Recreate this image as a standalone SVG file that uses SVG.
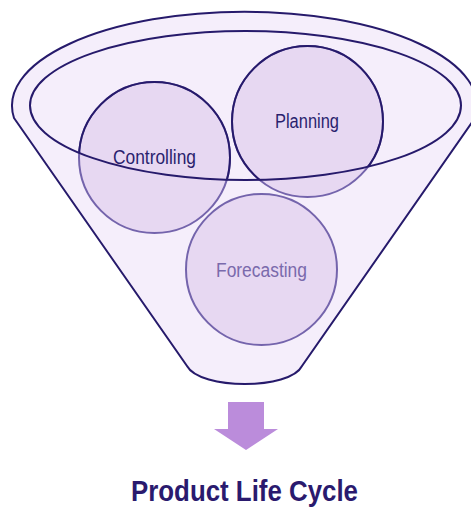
<svg xmlns="http://www.w3.org/2000/svg" width="471" height="508" viewBox="0 0 471 508">
<style>
.dark{stroke:#261a6b;stroke-width:2;fill:none}
.circ{fill:#e7d8f2;stroke:#7464ac;stroke-width:2}
.lbl{font-family:"Liberation Sans",Arial,sans-serif;font-size:20px;text-anchor:middle}
</style>
<defs>
<clipPath id="inner"><ellipse cx="245.5" cy="105.5" rx="215.5" ry="74.5"/></clipPath>
</defs>
<rect width="471" height="508" fill="#ffffff"/>
<g id="funnel">
<path d="M14,118 L187,366 C200,390 290,390 302,366 L475,118 A232.5,94 0 1 0 14,118 Z" fill="#f5eefb" stroke="#261a6b" stroke-width="2"/>
</g>
<g id="controlling">
<circle class="circ" cx="154.5" cy="157.5" r="75.5"/>
<circle class="dark" cx="154.5" cy="157.5" r="75.5" clip-path="url(#inner)"/>
<text class="lbl" x="154.5" y="164.3" fill="#2a1f6e" textLength="83" lengthAdjust="spacingAndGlyphs">Controlling</text>
</g>
<g id="planning">
<circle class="circ" cx="307.5" cy="121.5" r="75.5"/>
<circle class="dark" cx="307.5" cy="121.5" r="75.5" clip-path="url(#inner)"/>
<text class="lbl" x="307" y="127.7" fill="#2a1f6e" textLength="64" lengthAdjust="spacingAndGlyphs">Planning</text>
</g>
<g id="forecasting">
<circle class="circ" cx="261.5" cy="269.5" r="75.5"/>
<text class="lbl" x="261.5" y="276.7" fill="#7a6aac" textLength="91" lengthAdjust="spacingAndGlyphs">Forecasting</text>
</g>
<g id="rim">
<ellipse class="dark" cx="245.5" cy="105.5" rx="215.5" ry="74.5"/>
</g>
<g id="connectors">
<polygon points="228,402 264,402 264,429 278,429 246,450 214,429 228,429" fill="#bb8cdb"/>
</g>
<g id="result">
<text x="244.5" y="500.7" font-family="'Liberation Sans',Arial,sans-serif" font-size="29" font-weight="bold" fill="#2a1a6e" text-anchor="middle" textLength="227" lengthAdjust="spacingAndGlyphs">Product Life Cycle</text>
</g>
</svg>
